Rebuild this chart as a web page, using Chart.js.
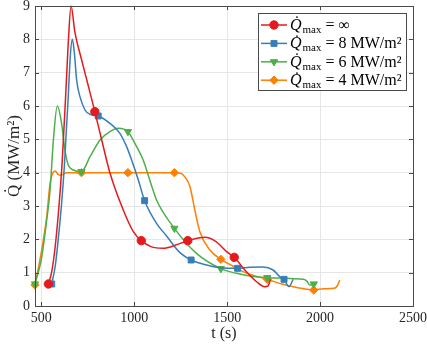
<!DOCTYPE html>
<html>
<head>
<meta charset="utf-8">
<title>Heat flux limit</title>
<script src="https://cdn.jsdelivr.net/npm/chart.js@4.4.0/dist/chart.umd.min.js"></script>
<style>
  body { margin: 0; background: #fff; }
  #wrap { width: 427px; height: 345px; }
</style>
</head>
<body>
<div id="wrap"><canvas id="fluxChart"></canvas></div>
<script>
// time (s) and heat flux (MW/m2), one set per flux limit
const infTime = [538, 555, 575, 595, 612, 630, 645, 660, 681, 717, 753, 788, 825, 869, 941, 995, 1038, 1090, 1156, 1220, 1288, 1380, 1440, 1497, 1538, 1600, 1660, 1702, 1720, 1733];
const infFlux = [0.66, 1.0, 1.8, 3.0, 4.3, 6.2, 7.9, 9.0, 8.2, 7.38, 6.6, 5.83, 4.98, 4.0, 2.88, 2.23, 1.96, 1.78, 1.73, 1.82, 1.96, 2.06, 1.93, 1.63, 1.46, 1.05, 0.72, 0.58, 0.6, 0.8];
const infMarks = [0, 11, 16, 20, 24];

const q8Time = [556, 575, 591, 608, 624, 645, 656, 667, 678, 690, 708, 735, 762, 806, 869, 923, 959, 986, 1022, 1056, 1120, 1174, 1246, 1306, 1389, 1461, 1556, 1620, 1694, 1747, 1783, 1806, 1833, 1855];
const q8Flux = [0.66, 1.2, 2.0, 3.0, 4.2, 6.3, 7.5, 8.0, 7.58, 6.78, 6.28, 5.88, 5.75, 5.7, 5.48, 5.18, 4.78, 4.38, 3.78, 3.16, 2.48, 2.1, 1.6, 1.38, 1.23, 1.15, 1.13, 1.16, 1.17, 1.08, 0.88, 0.8, 0.58, 0.8];
const q8Marks = [0, 13, 19, 23, 26, 31];

const q6Time = [466, 500, 525, 547, 565, 586, 609, 627, 645, 672, 716, 762, 816, 869, 914, 966, 1013, 1048, 1094, 1120, 1216, 1335, 1466, 1550, 1622, 1716, 1780, 1855, 1910, 1930, 1945, 1966, 1984];
const q6Flux = [0.66, 1.4, 2.4, 3.48, 4.98, 6.0, 5.48, 4.68, 4.23, 4.08, 4.03, 4.48, 4.98, 5.23, 5.33, 5.23, 4.78, 4.38, 3.6, 3.18, 2.33, 1.58, 1.12, 0.98, 0.9, 0.85, 0.84, 0.82, 0.8, 0.74, 0.63, 0.66, 0.68];
const q6Marks = [0, 10, 15, 20, 22, 25, 31];

const q4Time = [466, 502, 529, 547, 561, 574, 590, 605, 636, 716, 966, 1216, 1250, 1275, 1300, 1326, 1353, 1407, 1466, 1530, 1586, 1650, 1716, 1800, 1880, 1966, 2020, 2075, 2092, 2106];
const q4Flux = [0.63, 1.68, 2.68, 3.68, 3.98, 4.05, 3.95, 3.92, 4.0, 4.0, 4.0, 4.0, 3.98, 3.85, 3.58, 2.88, 2.23, 1.68, 1.4, 1.2, 1.03, 0.9, 0.8, 0.65, 0.55, 0.48, 0.52, 0.53, 0.6, 0.78];
const q4Marks = [0, 9, 10, 11, 18, 22, 25];

const limitNames = ['∞', '8 MW/m²', '6 MW/m²', '4 MW/m²'];
const xTicks = [500, 1000, 1500, 2000, 2500];
const yTicks = [0, 1, 2, 3, 4, 5, 6, 7, 8, 9];

const serif = '"Liberation Serif", "DejaVu Serif", serif';
const markSize = 4.2;

// build one line dataset, markers only at the marked indices
function makeDataset(name, times, flux, marks, color, style, rotation) {
    return {
        label: name,
        data: times.map((t, i) => ({ x: t, y: flux[i] })),
        borderColor: color,
        backgroundColor: color,
        borderWidth: 1.5,
        cubicInterpolationMode: 'monotone',
        pointStyle: style,
        pointRotation: rotation,
        pointRadius: (ctx) => marks.includes(ctx.dataIndex) ? markSize : 0,
        pointHoverRadius: 0,
        pointBorderWidth: 1,
        clip: false
    };
}

// axes box with inward tick marks
const boxPlugin = {
    id: 'axesBox',
    afterDatasetsDraw(chart) {
        const ctx = chart.ctx;
        const a = chart.chartArea;
        const xs = chart.scales.x, ys = chart.scales.y;
        ctx.save();
        ctx.strokeStyle = '#4a4a4a';
        ctx.lineWidth = 1;
        ctx.strokeRect(Math.round(a.left) + 0.5, Math.round(a.top) + 0.5,
            Math.round(a.right - a.left), Math.round(a.bottom - a.top));
        ctx.beginPath();
        xTicks.forEach(v => {
            const px = Math.round(xs.getPixelForValue(v)) + 0.5;
            ctx.moveTo(px, a.bottom); ctx.lineTo(px, a.bottom - 4);
            ctx.moveTo(px, a.top); ctx.lineTo(px, a.top + 4);
        });
        yTicks.forEach(v => {
            const py = Math.round(ys.getPixelForValue(v)) + 0.5;
            ctx.moveTo(a.left, py); ctx.lineTo(a.left + 4, py);
            ctx.moveTo(a.right, py); ctx.lineTo(a.right - 4, py);
        });
        ctx.stroke();
        ctx.restore();
    }
};

// boxed legend in the upper right corner
const legendPlugin = {
    id: 'boxLegend',
    afterDraw(chart) {
        const ctx = chart.ctx;
        const a = chart.chartArea;
        const w = 148, h = 77;
        const left = Math.round(a.right) - 155, top = Math.round(a.top) + 7;
        ctx.save();
        ctx.fillStyle = '#fff';
        ctx.fillRect(left, top, w, h);
        ctx.strokeStyle = '#4a4a4a';
        ctx.lineWidth = 1;
        ctx.strokeRect(left + 0.5, top + 0.5, w, h);
        chart.data.datasets.forEach((ds, i) => {
            const y = top + 12 + i * 18.4;
            ctx.strokeStyle = ds.borderColor;
            ctx.fillStyle = ds.borderColor;
            ctx.lineWidth = 1.5;
            ctx.beginPath();
            ctx.moveTo(left + 3, y);
            ctx.lineTo(left + 29, y);
            ctx.stroke();
            ctx.lineWidth = 1;
            Chart.helpers.drawPoint(ctx, { pointStyle: ds.pointStyle, rotation: ds.pointRotation, radius: markSize, borderWidth: 1 }, left + 16, y);
            // label text: Q dot with subscript max
            ctx.fillStyle = '#000';
            ctx.textBaseline = 'alphabetic';
            let x = left + 32;
            const base = y + 5;
            ctx.font = 'italic 16px ' + serif;
            ctx.fillText('Q\u0307', x, base);
            x += ctx.measureText('Q').width + 1;
            ctx.font = '11px ' + serif;
            ctx.fillText('max', x, base + 3);
            x += ctx.measureText('max').width;
            ctx.font = '16px ' + serif;
            ctx.fillText(' = ' + ds.label, x, base);
        });
        ctx.restore();
    }
};

const ctx = document.getElementById('fluxChart').getContext('2d');
const fluxChart = new Chart(ctx, {
    type: 'line',
    data: {
        datasets: [
            makeDataset(limitNames[0], infTime, infFlux, infMarks, '#e41a1c', 'circle', 0),
            makeDataset(limitNames[1], q8Time, q8Flux, q8Marks, '#377eb8', 'rect', 0),
            makeDataset(limitNames[2], q6Time, q6Flux, q6Marks, '#4daf4a', 'triangle', 180),
            makeDataset(limitNames[3], q4Time, q4Flux, q4Marks, '#ff7f00', 'rectRot', 0)
        ]
    },
    options: {
        responsive: true,
        maintainAspectRatio: false,
        animation: false,
        layout: { padding: { top: 6, right: 14, left: 0, bottom: 0 } },
        plugins: {
            legend: { display: false },
            tooltip: { enabled: false }
        },
        scales: {
            x: {
                type: 'linear',
                min: 466,
                max: 2500,
                afterBuildTicks: (scale) => { scale.ticks = xTicks.map(v => ({ value: v })); },
                afterFit: (scale) => { scale.height = 39; scale.paddingLeft = 0; scale.paddingRight = 0; },
                grid: { color: '#e6e6e6', drawTicks: false },
                border: { display: false },
                ticks: { color: '#262626', padding: 4, maxRotation: 0, callback: (v) => String(v), font: { family: serif, size: 14 } },
                title: { display: true, text: 't (s)', color: '#262626', padding: { top: 0, bottom: 2 }, font: { family: serif, size: 16 } }
            },
            y: {
                min: 0,
                max: 9,
                afterBuildTicks: (scale) => { scale.ticks = yTicks.map(v => ({ value: v })); },
                afterFit: (scale) => { scale.width = 35; scale.paddingTop = 0; scale.paddingBottom = 0; },
                grid: { color: '#e6e6e6', drawTicks: false },
                border: { display: false },
                ticks: { color: '#262626', padding: 5, callback: (v) => String(v), font: { family: serif, size: 14 } },
                title: { display: true, text: 'Q\u0307 (MW/m²)', color: '#262626', padding: { top: 4, bottom: 0 }, font: { family: serif, size: 17 } }
            }
        }
    },
    plugins: [boxPlugin, legendPlugin]
});
</script>
</body>
</html>
